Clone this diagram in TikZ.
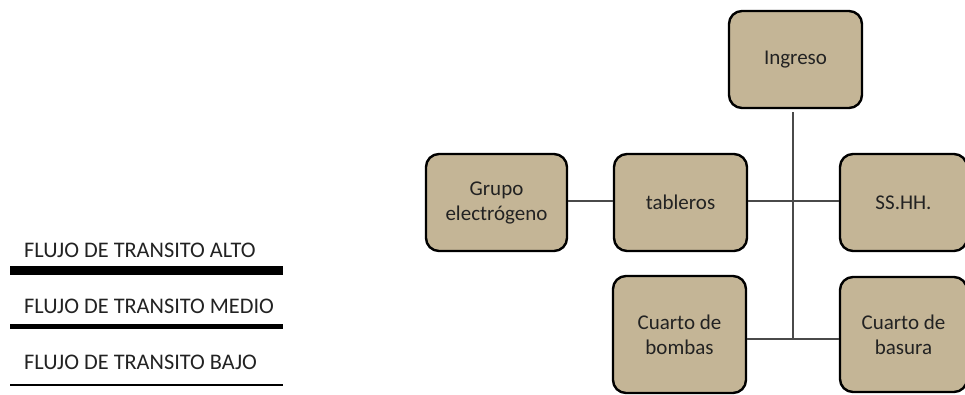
\documentclass[tikz,border=0pt]{standalone}
\usepackage{fontspec}
\setmainfont{Carlito}
\begin{document}
\begin{tikzpicture}[x=1pt,y=-1pt,
  room/.style={draw=black, line width=2.4pt, fill=roomtan, rounded corners=13pt,
    inner sep=0pt, align=center, text=txtgray,
    font=\fontsize{21}{25}\selectfont},
  link/.style={draw=linkgray, line width=1.6pt},
  legtext/.style={anchor=west, inner sep=0pt, text=txtgray,
    font=\fontsize{22.3}{26}\selectfont},
]
\definecolor{roomtan}{HTML}{C4B596}
\definecolor{txtgray}{HTML}{222222}
\definecolor{linkgray}{HTML}{4A4A4A}
\useasboundingbox (0,0) rectangle (965,394);
\clip (0,0) rectangle (965,394);

% legend
\node[legtext] (lalto)  at (24,250) {FLUJO DE TRANSITO ALTO};
\node[legtext] (lmedio) at (24,306) {FLUJO DE TRANSITO MEDIO};
\node[legtext] (lbajo)  at (24,362) {FLUJO DE TRANSITO BAJO};
\coordinate (a1) at (10,270); \coordinate (a2) at (283,270);
\coordinate (m1) at (10,326.5); \coordinate (m2) at (283,326.5);
\coordinate (b1) at (10,385); \coordinate (b2) at (283,385);
\draw[line width=9pt] (a1) -- (a2);
\draw[line width=4.5pt] (m1) -- (m2);
\draw[line width=2.5pt] (b1) -- (b2);

% rooms
\node[room, minimum width=133pt, minimum height=97pt] (ing) at (795.5,59.5) {Ingreso};
\node[room, minimum width=141pt, minimum height=97pt] (gru) at (496.5,202.5) {Grupo\\electrógeno};
\node[room, minimum width=133pt, minimum height=97pt] (tab) at (680.5,202.5) {tableros};
\node[room, minimum width=127pt, minimum height=97pt] (ssh) at (903.5,202.5) {SS.HH.};
\node[room, minimum width=133pt, minimum height=117pt] (bom) at (679.5,334.5) {Cuarto de\\bombas};
\node[room, minimum width=127pt, minimum height=115pt] (bas) at (903.5,334.5) {Cuarto de\\basura};

% connectors
\coordinate (top) at (793,112);
\coordinate (bot) at (793,339);
\draw[link] (top) -- (bot);
\draw[link] (gru.east |- 0,201) -- (tab.west |- 0,201);
\draw[link] (tab.east |- 0,201) -- (ssh.west |- 0,201);
\draw[link] (bom.east |- bot) -- (bas.west |- bot);
\end{tikzpicture}
\end{document}
